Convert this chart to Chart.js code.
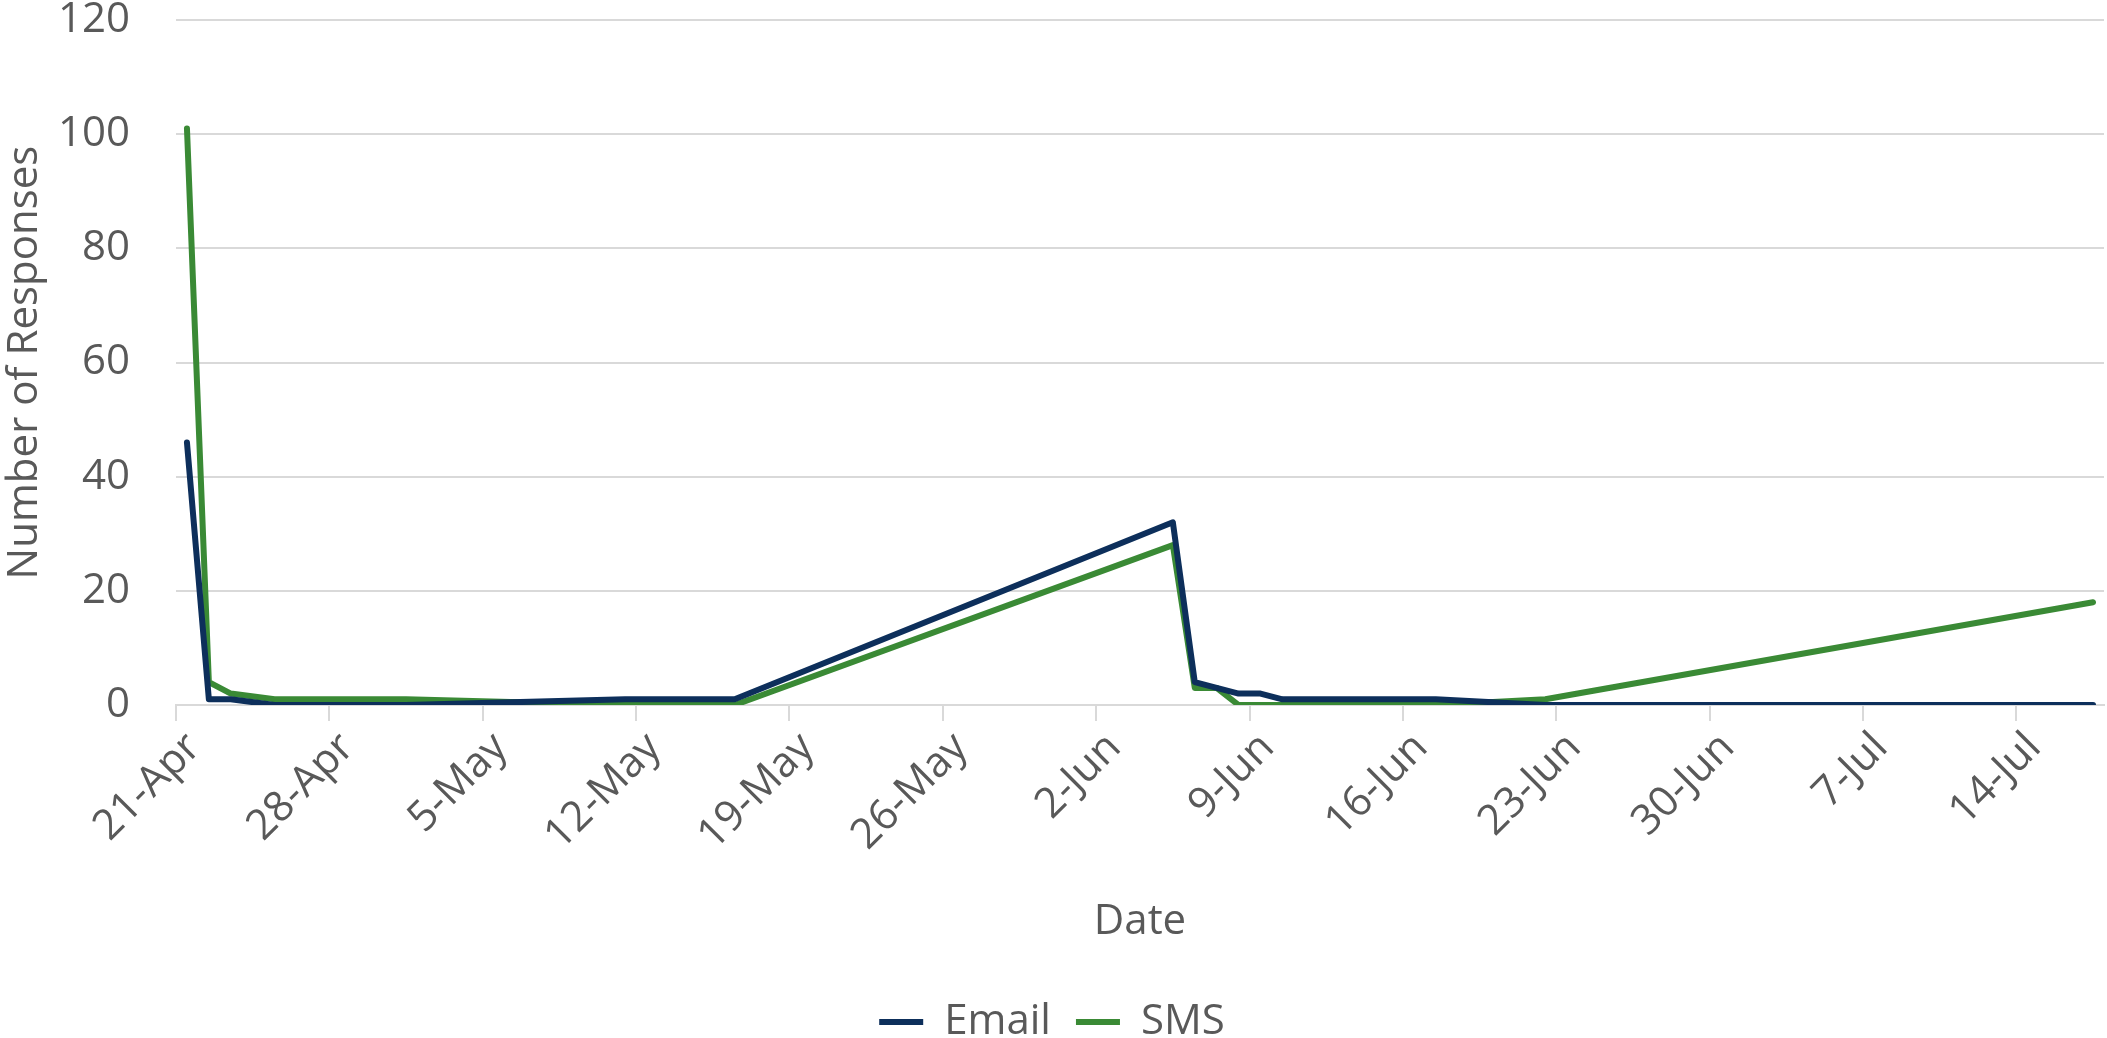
<!DOCTYPE html>
<html>
<head>
<meta charset="utf-8">
<script src="https://cdn.jsdelivr.net/npm/chart.js@4.4.1/dist/chart.umd.min.js"></script>
<style>
  body { margin: 0; background: #fff; }
  #wrap { width: 2107px; height: 1038px; }
</style>
</head>
<body>
<div id="wrap"><canvas id="lineChart"></canvas></div>
<script>
// Responses per day, by channel
const dates = ['2019-04-21', '2019-04-22', '2019-04-23', '2019-04-25', '2019-05-01', '2019-05-11', '2019-05-16',
  '2019-06-05', '2019-06-06', '2019-06-07', '2019-06-08', '2019-06-09', '2019-06-10', '2019-06-17', '2019-06-22', '2019-07-17'];
const email = [46, 1, 1, 0, 0, 1, 1, 32, 4, 3, 2, 2, 1, 1, 0, 0];
const sms = [101, 4, 2, 1, 1, 0, 0, 28, 3, 3, 0, 0, 0, 0, 1, 18];
const yTicks = [0, 20, 40, 60, 80, 100, 120];

const startDate = '2019-04-21';
const axisDays = 88; // 21-Apr .. 17-Jul, one slot per day
const months = ['Jan', 'Feb', 'Mar', 'Apr', 'May', 'Jun', 'Jul', 'Aug', 'Sep', 'Oct', 'Nov', 'Dec'];

const dayMs = 86400000;
const t0 = Date.parse(startDate);
const dayOf = d => Math.round((Date.parse(d) - t0) / dayMs);
// points sit in the middle of their day slot, like a date axis in Excel
const toPoints = vals => vals.map((v, i) => ({ x: dayOf(dates[i]) + 0.5, y: v }));
const dayLabel = n => {
  const d = new Date(t0 + n * dayMs);
  return d.getUTCDate() + '-' + months[d.getUTCMonth()];
};

const textColor = '#595959';
const gridColor = '#d9d9d9';
const font = { family: 'Open Sans', size: 42 };

const ctx = document.getElementById('lineChart').getContext('2d');
const lineChart = new Chart(ctx, {
  type: 'line',
  data: {
    datasets: [{
      label: 'Email',
      data: toPoints(email),
      borderColor: '#0d2f5b',
      backgroundColor: '#0d2f5b',
      borderWidth: 6,
      pointRadius: 0,
      borderCapStyle: 'round',
      borderJoinStyle: 'round',
      tension: 0
    }, {
      label: 'SMS',
      data: toPoints(sms),
      borderColor: '#3a8a35',
      backgroundColor: '#3a8a35',
      borderWidth: 6,
      pointRadius: 0,
      borderCapStyle: 'round',
      borderJoinStyle: 'round',
      tension: 0
    }]
  },
  options: {
    responsive: true,
    maintainAspectRatio: false,
    animation: false,
    layout: { padding: { top: 0, right: 3, left: 0, bottom: -15 } },
    plugins: {
      tooltip: { enabled: false },
      legend: {
        position: 'bottom',
        labels: {
          color: textColor,
          font: font,
          usePointStyle: true,
          pointStyle: 'line',
          pointStyleWidth: 44,
          padding: 25
        }
      }
    },
    scales: {
      x: {
        type: 'linear',
        min: 0,
        max: axisDays,
        grid: {
          color: gridColor,
          lineWidth: 2,
          drawOnChartArea: false,
          drawTicks: true,
          tickLength: 16
        },
        border: { color: gridColor, width: 2 },
        ticks: {
          stepSize: 7,
          includeBounds: false,
          autoSkip: false,
          maxRotation: 45,
          minRotation: 45,
          color: textColor,
          font: font,
          padding: 2,
          labelOffset: 18,
          callback: v => dayLabel(v)
        },
        title: {
          display: true,
          text: 'Date',
          color: textColor,
          font: font,
          padding: { top: 10, bottom: 29 }
        },
        afterFit: axis => {
          axis.height = 271;
          axis.paddingLeft = 0;
          axis.paddingRight = 0;
        }
      },
      y: {
        min: yTicks[0],
        max: yTicks[yTicks.length - 1],
        grid: { color: gridColor, lineWidth: 2, drawTicks: false },
        border: { display: false },
        afterBuildTicks: axis => { axis.ticks = yTicks.map(v => ({ value: v })); },
        ticks: {
          color: textColor,
          font: font,
          padding: 46
        },
        title: {
          display: true,
          text: 'Number of Responses',
          color: textColor,
          font: font,
          padding: { top: 0, bottom: 10 }
        },
        afterFit: axis => {
          axis.width = 176;
          axis.paddingTop = 20;
          axis.paddingBottom = 0;
        }
      }
    }
  }
});
</script>
</body>
</html>
